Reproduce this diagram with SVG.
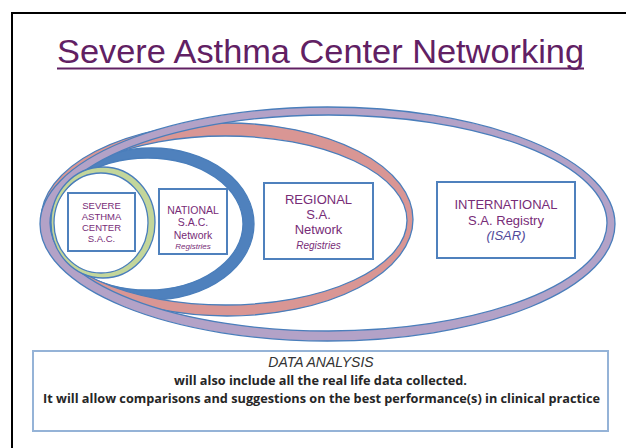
<svg xmlns="http://www.w3.org/2000/svg" width="626" height="448" viewBox="0 0 626 448">
  <style>
    .frame { stroke: #000; stroke-width: 2; fill: none; }
    .title { font-family: "Liberation Sans", Arial, sans-serif; font-size: 34px; fill: #612063; }
    .band { fill-rule: evenodd; stroke: #4A7EBB; stroke-width: 1.3; }
    .box { fill: #fff; stroke: #4F81BD; stroke-width: 2; }
    .lbl { font-family: "Liberation Sans", Arial, sans-serif; fill: #772C77; text-anchor: middle; }
    .it { font-style: italic; }
    .data-box { fill: #fff; stroke: #95B3D7; stroke-width: 2; }
    .data-it { font-family: "Liberation Sans", Arial, sans-serif; font-style: italic; font-size: 14px; fill: #333; text-anchor: middle; }
    .data-b { font-family: "Open Sans", "Liberation Sans", sans-serif; font-weight: bold; font-size: 13px; fill: #262626; text-anchor: middle; }
  </style>

  <!-- slide frame -->
  <path class="frame" d="M12 448 V13 H626"/>

  <!-- heading -->
  <g id="title">
    <text class="title" x="57" y="63" textLength="527" lengthAdjust="spacingAndGlyphs">Severe Asthma Center Networking</text>
    <line x1="57" y1="68.5" x2="584" y2="68.5" stroke="#612063" stroke-width="2"/>
  </g>

  <!-- nested network rings: each band is the area between two ellipses -->
  <g id="rings">
    <path id="ring-national" class="band" fill="#4F81BD" stroke="#3F72B0"
          d="M49,224 a102.5,76 0 1,0 205,0 a102.5,76 0 1,0 -205,0 Z
             M52,224 a95.5,66 0 1,0 191,0 a95.5,66 0 1,0 -191,0 Z"/>
    <path id="ring-regional" class="band" fill="#D99694"
          d="M41,219.5 a186,96.5 0 1,0 372,0 a186,96.5 0 1,0 -372,0 Z
             M44,220.5 a181.5,84.5 0 1,0 363,0 a181.5,84.5 0 1,0 -363,0 Z"/>
    <path id="ring-international" class="band" fill="#B3A2C7"
          d="M40,224 a287.5,117 0 1,0 575,0 a287.5,117 0 1,0 -575,0 Z
             M50,223 a278.5,108 0 1,0 557,0 a278.5,108 0 1,0 -557,0 Z"/>
    <path id="ring-center" class="band" fill="#C3D69B"
          d="M51,222.5 a52,55.5 0 1,0 104,0 a52,55.5 0 1,0 -104,0 Z
             M54,223 a47,50 0 1,0 94,0 a47,50 0 1,0 -94,0 Z"/>
  </g>

  <!-- labels -->
  <g id="node-center">
    <rect class="box" x="68" y="193" width="67" height="58"/>
    <text class="lbl" font-size="9.5" x="101.5" y="209">SEVERE</text>
    <text class="lbl" font-size="9.5" x="101.5" y="220">ASTHMA</text>
    <text class="lbl" font-size="9.5" x="101.5" y="231">CENTER</text>
    <text class="lbl" font-size="9.5" x="101.5" y="242">S.A.C.</text>
  </g>

  <g id="node-national">
    <rect class="box" x="159" y="189" width="68" height="65"/>
    <text class="lbl" font-size="10.5" x="193" y="214">NATIONAL</text>
    <text class="lbl" font-size="10.5" x="193" y="226">S.A.C.</text>
    <text class="lbl" font-size="10.5" x="193" y="239">Network</text>
    <text class="lbl it" font-size="8" x="193" y="249">Registries</text>
  </g>

  <g id="node-regional">
    <rect class="box" x="264" y="183" width="109" height="76"/>
    <text class="lbl" font-size="13" x="318.5" y="204">REGIONAL</text>
    <text class="lbl" font-size="13" x="318.5" y="219">S.A.</text>
    <text class="lbl" font-size="13" x="318.5" y="234">Network</text>
    <text class="lbl it" font-size="10" x="318.5" y="249">Registries</text>
  </g>

  <g id="node-international">
    <rect class="box" x="437" y="182" width="138" height="76"/>
    <text class="lbl" font-size="13" x="506" y="209">INTERNATIONAL</text>
    <text class="lbl" font-size="13" x="506" y="225">S.A. Registry</text>
    <text class="lbl it" font-size="13" x="506" y="240" style="fill:#524A9A">(ISAR)</text>
  </g>

  <!-- data analysis note -->
  <g id="node-data">
    <rect class="data-box" x="33" y="351" width="575" height="80"/>
    <text class="data-it" x="321" y="367">DATA ANALYSIS</text>
    <text class="data-b" x="320.5" y="385" textLength="293" lengthAdjust="spacingAndGlyphs">will also include all the real life data collected.</text>
    <text class="data-b" x="321.5" y="403" textLength="557" lengthAdjust="spacingAndGlyphs">It will allow comparisons and suggestions on the best performance(s) in clinical practice</text>
  </g>
</svg>
